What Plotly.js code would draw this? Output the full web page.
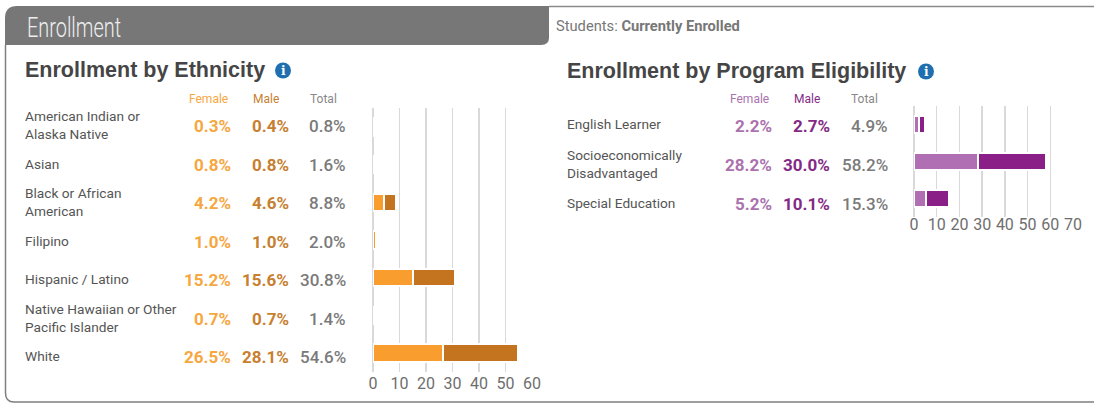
<!DOCTYPE html>
<html><head><meta charset="utf-8">
<script src="https://cdn.plot.ly/plotly-3.0.1.min.js"></script>
<style>html,body{margin:0;padding:0;background:#fff}#c{width:1094px;height:403px}</style>
</head><body><div id="c"></div>
<script>
const ethnicity = ["American Indian or<br>Alaska Native","Asian","Black or African<br>American","Filipino","Hispanic / Latino","Native Hawaiian or Other<br>Pacific Islander","White"];
const ethFemale = [0.3,0.8,4.2,1.0,15.2,0.7,26.5];
const ethMale = [0.4,0.8,4.6,1.0,15.6,0.7,28.1];
const ethTotal = [0.8,1.6,8.8,2.0,30.8,1.4,54.6];
const program = ["English Learner","Socioeconomically<br>Disadvantaged","Special Education"];
const progFemale = [2.2,28.2,5.2];
const progMale = [2.7,30.0,10.1];
const progTotal = [4.9,58.2,15.3];
const W=1094,H=403;
const X=p=>p/W, Y=p=>1-p/H;
const ROB='Roboto,sans-serif', ARIAL='"Liberation Sans",Arial,sans-serif';
const GREY='#6e6e6e', GRID='#d9d9d9';
const ORANGE=['#F99D2F','#C4741F'], PURPLE=['#B06FB3','#8A2087'];
const ORANGE_T=['#F6A73F','#C77F30'], PURPLE_T=['#AB72AE','#842A86'];

function bar(y,x,color,xa,ya){return {type:'bar',orientation:'h',y:y,x:x,xaxis:xa,yaxis:ya,
  marker:{color:color,line:{color:'#fff',width:2}},hoverinfo:'skip',showlegend:false};}
const data=[
 bar(ethnicity,ethFemale,ORANGE[0],'x','y'),
 bar(ethnicity,ethMale,ORANGE[1],'x','y'),
 bar(program,progFemale,PURPLE[0],'x2','y2'),
 bar(program,progMale,PURPLE[1],'x2','y2')
];
const ann=[];
function txt(x,y,text,o){ann.push(Object.assign({xref:'paper',yref:'paper',x:X(x),y:Y(y),text:text,showarrow:false,
  xanchor:'left',yanchor:'middle',align:'left',borderpad:0,borderwidth:0},o||{}));}
function fmt(v){return v.toFixed(1)+'%';}
function table(cats,f,m,t,lx,cx,cols,y0,dy){
  cats.forEach((c,i)=>{
    const yp=y0+dy*i;
    txt(lx,yp-1,c,{font:{size:13.7,color:'#555',family:ROB}});
    txt(cx[0],yp,'<b>'+fmt(f[i])+'</b>',{xanchor:'right',font:{size:17,color:cols[0],family:ROB}});
    txt(cx[1],yp,'<b>'+fmt(m[i])+'</b>',{xanchor:'right',font:{size:17,color:cols[1],family:ROB}});
    txt(cx[2],yp,fmt(t[i]),{xanchor:'right',font:{size:17,color:'#7a7a7a',family:ROB,weight:500}});
  });
}
table(ethnicity,ethFemale,ethMale,ethTotal,25,[231,289,346],ORANGE_T,126,38.5);
table(program,progFemale,progMale,progTotal,567,[772,830,888],PURPLE_T,125.5,39);
txt(27,28,'Enrollment',{font:{size:28,color:'#eeeeee',family:ROB,weight:300}});
txt(556,26,'Students: <b>Currently Enrolled</b>',{font:{size:14.7,color:'#777',family:ROB}});
txt(25,70,'<b>Enrollment by Ethnicity</b>',{font:{size:21.5,color:'#454545',family:ARIAL}});
txt(567,71,'<b>Enrollment by Program Eligibility</b>',{font:{size:21.5,color:'#454545',family:ARIAL}});
[[283,70.5],[926,71.5]].forEach(p=>txt(p[0],p[1],'<b>i</b>',{xanchor:'center',font:{size:12,color:'#fff',family:'"DejaVu Serif",serif'}}));
[[208,'Female',ORANGE_T[0]],[266,'Male',ORANGE_T[1]],[323,'Total','#888'],
 [749,'Female',PURPLE_T[0]],[807,'Male',PURPLE_T[1]],[864,'Total','#888']].forEach(h=>
  txt(h[0],99,h[1],{xanchor:'center',font:{size:12,color:h[2],family:ROB}}));

function circle(cx,cy,r,color){return {type:'circle',xref:'paper',yref:'paper',x0:X(cx-r),x1:X(cx+r),y0:Y(cy+r),y1:Y(cy-r),fillcolor:color,line:{width:0},layer:'below'};}
const rad=12;
const tabPath=`M ${X(5)} ${Y(45)} L ${X(5)} ${Y(6+rad)} Q ${X(5)} ${Y(6)} ${X(5+rad)} ${Y(6)} L ${X(549)} ${Y(6)} L ${X(549)} ${Y(38)} Q ${X(549)} ${Y(45)} ${X(541)} ${Y(45)} Z`;
const framePath=`M ${X(5.5)} ${Y(45)} L ${X(5.5)} ${Y(393)} Q ${X(5.5)} ${Y(402)} ${X(14)} ${Y(402)} L ${X(1094)} ${Y(402)}`;
const topPath=`M ${X(549)} ${Y(6.5)} L ${X(1094)} ${Y(6.5)}`;
const shapes=[
 {type:'path',xref:'paper',yref:'paper',path:framePath,line:{color:'#7f7f7f',width:1.5},layer:'below'},
 {type:'path',xref:'paper',yref:'paper',path:topPath,line:{color:'#8a8a8a',width:1.5},layer:'below'},
 {type:'path',xref:'paper',yref:'paper',path:tabPath,fillcolor:'#777777',line:{width:0},layer:'below'},
 circle(283,70.5,8,'#1f6fb0'),circle(926,71.5,8,'#1f6fb0')
];
function xax(domain,range,dt,anchor,standoff){return {domain:domain,range:range,dtick:dt,tick0:0,anchor:anchor,showgrid:true,gridcolor:GRID,gridwidth:1.5,
  zeroline:true,zerolinecolor:GRID,zerolinewidth:1.5,showline:false,ticks:'',tickfont:{size:16,color:GREY,family:ROB},ticklabelstandoff:standoff,fixedrange:true};}
function yax(domain,anchor){return {domain:domain,anchor:anchor,autorange:'reversed',type:'category',showticklabels:false,showgrid:false,zeroline:false,showline:false,ticks:'',fixedrange:true};}
const layout={width:W,height:H,margin:{l:0,r:0,t:0,b:0},paper_bgcolor:'#fff',plot_bgcolor:'rgba(0,0,0,0)',
 barmode:'stack',bargap:0.54,showlegend:false,annotations:ann,shapes:shapes,
 xaxis:xax([X(373),X(532)],[0,60],10,'y',0),
 yaxis:yax([Y(372),Y(108)],'x'),
 xaxis2:xax([X(914),X(1073)],[0,70],10,'y2',-4),
 yaxis2:yax([Y(217),Y(106)],'x2')
};
function condense(){
  document.querySelectorAll('.annotation-text').forEach(t=>{
    if(t.textContent!=='Enrollment') return;
    const len=t.getComputedTextLength();
    t.setAttribute('textLength',len*0.71);
    t.setAttribute('lengthAdjust','spacingAndGlyphs');
  });
}
Plotly.newPlot('c',data,layout,{staticPlot:true,displayModeBar:false}).then(condense);
</script></body></html>
